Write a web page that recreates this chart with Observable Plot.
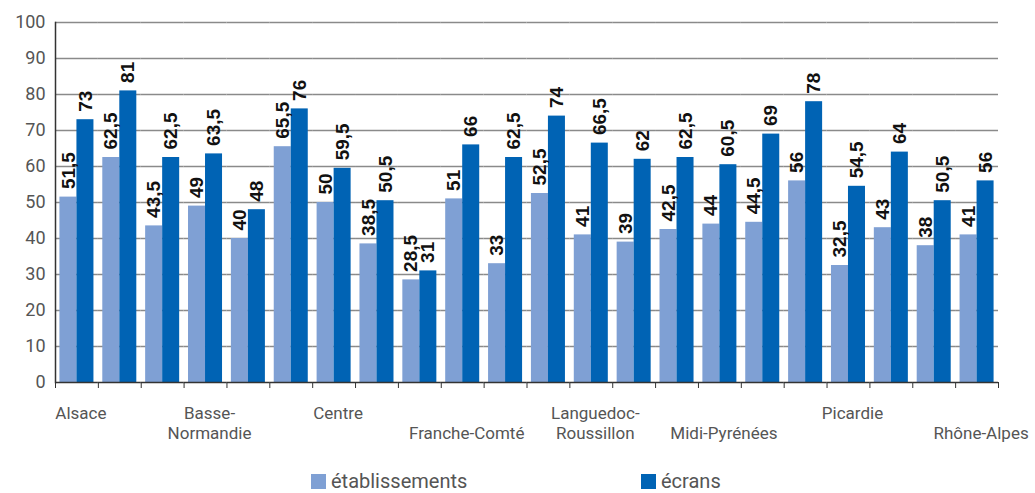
<!DOCTYPE html>
<html>
<head>
<meta charset="utf-8">
<script src="https://cdn.jsdelivr.net/npm/d3@7"></script>
<script src="https://cdn.jsdelivr.net/npm/@observablehq/plot@0.6"></script>
<style>
  body { margin: 0; background: #fff; overflow: hidden; }
  #chart { width: 1035px; }
  .legend { position: relative; width: 1035px; height: 38px; font-family: Roboto, sans-serif; font-size: 20px; color: #555; }
  .legend .item { position: absolute; top: 15px; display: flex; align-items: center; line-height: 22px; }
  .legend .sw { width: 15px; height: 15px; margin-right: 5px; }
</style>
</head>
<body>
<div id="chart"></div>
<script>
const regions = ["Alsace", "Aquitaine", "Auvergne", "Basse-Normandie", "Bourgogne", "Bretagne", "Centre",
  "Champagne-Ardenne", "Corse", "Franche-Comté", "Haute-Normandie", "Île-de-France", "Languedoc-Roussillon",
  "Limousin", "Lorraine", "Midi-Pyrénées", "Nord-Pas-de-Calais", "Pays de la Loire", "Picardie",
  "Poitou-Charentes", "Provence-Alpes-Côte d'Azur", "Rhône-Alpes"];
const etablissements = [51.5, 62.5, 43.5, 49, 40, 65.5, 50, 38.5, 28.5, 51, 33, 52.5, 41, 39, 42.5, 44, 44.5, 56, 32.5, 43, 38, 41];
const ecrans = [73, 81, 62.5, 63.5, 48, 76, 59.5, 50.5, 31, 66, 62.5, 74, 66.5, 62, 62.5, 60.5, 69, 78, 54.5, 64, 50.5, 56];
const tickLabels = ["Alsace", "", "", "Basse-\nNormandie", "", "", "Centre", "", "", "\u00a0\nFranche-Comté", "", "",
  "Languedoc-\nRoussillon", "", "", "\u00a0\nMidi-Pyrénées", "", "", "Picardie", "", "", "\u00a0\nRhône-Alpes"];
const seriesNames = ["établissements", "écrans"];
const colors = ["#7fa0d4", "#0063b4"];
const yTicks = [0, 10, 20, 30, 40, 50, 60, 70, 80, 90, 100];

const data = regions.flatMap((r, i) => [
  {region: r, serie: seriesNames[0], value: etablissements[i]},
  {region: r, serie: seriesNames[1], value: ecrans[i]}
]);
const labelOf = new Map(regions.map((r, i) => [r, tickLabels[i]]));

const chart = Plot.plot({
  width: 1035,
  height: 455,
  marginLeft: 55,
  marginRight: 37,
  marginTop: 22,
  marginBottom: 73,
  style: {fontFamily: "Roboto, sans-serif", fontSize: "17px", color: "#555", background: "#fff"},
  fx: {domain: regions, paddingInner: 0, paddingOuter: 0, round: false, label: null},
  x: {domain: seriesNames, paddingInner: 0, paddingOuter: 0.26, round: false, axis: null},
  y: {domain: [0, 100], label: null},
  color: {domain: seriesNames, range: colors},
  marks: [
    Plot.ruleY(yTicks.filter(d => d > 0), {stroke: "#8a8a8a", strokeWidth: 1.5}),
    Plot.barY(data, {fx: "region", x: "serie", y: "value", fill: "serie"}),
    Plot.ruleY([0], {stroke: "#333", strokeWidth: 1.5}),
    Plot.frame({anchor: "left", facetAnchor: "left", stroke: "#333", strokeWidth: 1.5}),
    Plot.frame({anchor: "left", stroke: "#333", strokeWidth: 1, insetTop: 360, insetBottom: -5}),
    Plot.frame({anchor: "right", facetAnchor: "right", stroke: "#333", strokeWidth: 1, insetTop: 360, insetBottom: -5}),
    Plot.text(data, {
      fx: "region", x: "serie", y: "value",
      text: d => String(d.value).replace(".", ","),
      rotate: -90, textAnchor: "start", dy: -8,
      fontFamily: "Liberation Sans, Arial, sans-serif", fontWeight: "bold", fontSize: 19, fill: "#111"
    }),
    Plot.axisY({ticks: yTicks, tickSize: 0, tickPadding: 10, fontSize: 18, label: null}),
    Plot.axisFx({anchor: "bottom", tickSize: 0, tickPadding: 22, dx: 4, fontSize: 17, lineHeight: 1.18, lineAnchor: "top",
      tickFormat: d => labelOf.get(d), label: null})
  ]
});
document.getElementById("chart").appendChild(chart);

const legend = document.createElement("div");
legend.className = "legend";
const legendLeft = [311, 641];
seriesNames.forEach((name, i) => {
  const item = document.createElement("div");
  item.className = "item";
  item.style.left = legendLeft[i] + "px";
  const sw = document.createElement("div");
  sw.className = "sw";
  sw.style.background = colors[i];
  const t = document.createElement("span");
  t.textContent = name;
  item.appendChild(sw);
  item.appendChild(t);
  legend.appendChild(item);
});
document.body.appendChild(legend);
</script>
</body>
</html>
